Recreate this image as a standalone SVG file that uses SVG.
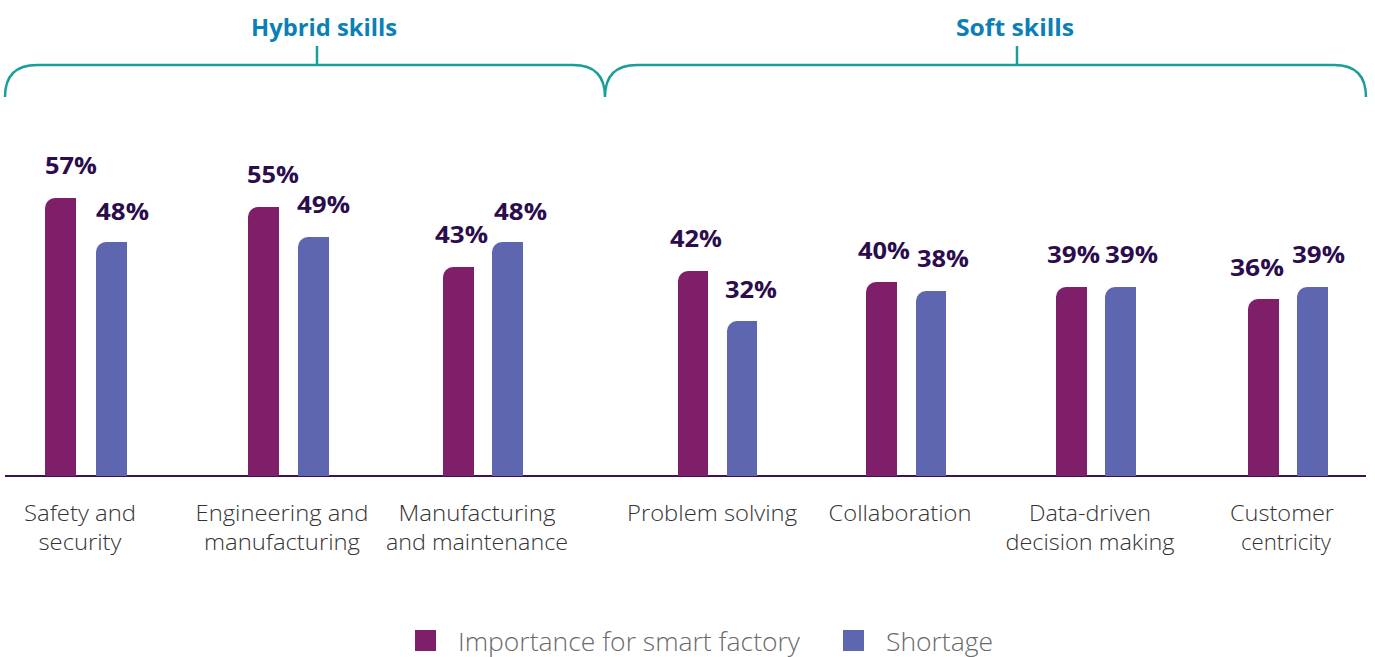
<svg xmlns="http://www.w3.org/2000/svg" width="1375" height="657" viewBox="0 0 1375 657">
<style>
.imp{fill:#7f1f69}
.sho{fill:#5e66b0}
.pct{font-family:"Open Sans","Liberation Sans",sans-serif;font-weight:700;font-size:24px;fill:#2b0d4d}
.cat{font-family:"Open Sans","Liberation Sans",sans-serif;font-weight:300;font-size:22.5px;fill:#333333;text-anchor:middle}
.grp{font-family:"Open Sans","Liberation Sans",sans-serif;font-weight:700;font-size:24px;fill:#0a7fb8;text-anchor:middle}
.brk{fill:none;stroke:#1a9e9a;stroke-width:2.5}
.leg{font-family:"Open Sans","Liberation Sans",sans-serif;font-weight:300;font-size:26px;fill:#6a6a6a}
</style>
<rect width="1375" height="657" fill="#ffffff"/>
<g id="brackets">
<path class="brk" d="M5,97 Q5,65 37,65 H573 Q605,65 605,97 Q605,65 637,65 H1334 Q1366,65 1366,97"/>
<path class="brk" d="M317,46 V65 M1017,46 V65"/>
<text class="grp" x="324" y="36" textLength="146" lengthAdjust="spacingAndGlyphs">Hybrid skills</text>
<text class="grp" x="1015" y="36" textLength="118" lengthAdjust="spacingAndGlyphs">Soft skills</text>
</g>
<g id="axis">
<line x1="5" y1="476" x2="1366" y2="476" stroke="#3a1258" stroke-width="2"/>
</g>
<g id="safety">
<path class="imp" d="M45,476 V208 A10,10 0 0 1 55,198 H76 V476 Z"/>
<path class="sho" d="M96,476 V252 A10,10 0 0 1 106,242 H127 V476 Z"/>
<text class="pct" x="45" y="174" textLength="52" lengthAdjust="spacingAndGlyphs">57%</text>
<text class="pct" x="96" y="220" textLength="53" lengthAdjust="spacingAndGlyphs">48%</text>
<text class="cat" x="80" y="521" textLength="112" lengthAdjust="spacingAndGlyphs">Safety and</text>
<text class="cat" x="80" y="550" textLength="83" lengthAdjust="spacingAndGlyphs">security</text>
</g>
<g id="engineering">
<path class="imp" d="M248,476 V217 A10,10 0 0 1 258,207 H279 V476 Z"/>
<path class="sho" d="M298,476 V247 A10,10 0 0 1 308,237 H329 V476 Z"/>
<text class="pct" x="247" y="183" textLength="52" lengthAdjust="spacingAndGlyphs">55%</text>
<text class="pct" x="297" y="213" textLength="53" lengthAdjust="spacingAndGlyphs">49%</text>
<text class="cat" x="282" y="521" textLength="173" lengthAdjust="spacingAndGlyphs">Engineering and</text>
<text class="cat" x="282" y="550" textLength="156" lengthAdjust="spacingAndGlyphs">manufacturing</text>
</g>
<g id="manufacturing">
<path class="imp" d="M443,476 V277 A10,10 0 0 1 453,267 H474 V476 Z"/>
<path class="sho" d="M492,476 V252 A10,10 0 0 1 502,242 H523 V476 Z"/>
<text class="pct" x="435" y="243" textLength="53" lengthAdjust="spacingAndGlyphs">43%</text>
<text class="pct" x="494" y="220" textLength="53" lengthAdjust="spacingAndGlyphs">48%</text>
<text class="cat" x="477" y="521" textLength="157" lengthAdjust="spacingAndGlyphs">Manufacturing</text>
<text class="cat" x="477" y="550" textLength="182" lengthAdjust="spacingAndGlyphs">and maintenance</text>
</g>
<g id="problem">
<path class="imp" d="M678,476 V281 A10,10 0 0 1 688,271 H708 V476 Z"/>
<path class="sho" d="M727,476 V331 A10,10 0 0 1 737,321 H757 V476 Z"/>
<text class="pct" x="670" y="247" textLength="52" lengthAdjust="spacingAndGlyphs">42%</text>
<text class="pct" x="725" y="298" textLength="52" lengthAdjust="spacingAndGlyphs">32%</text>
<text class="cat" x="712" y="521" textLength="170" lengthAdjust="spacingAndGlyphs">Problem solving</text>
</g>
<g id="collaboration">
<path class="imp" d="M866,476 V292 A10,10 0 0 1 876,282 H897 V476 Z"/>
<path class="sho" d="M916,476 V301 A10,10 0 0 1 926,291 H946 V476 Z"/>
<text class="pct" x="858" y="259" textLength="52" lengthAdjust="spacingAndGlyphs">40%</text>
<text class="pct" x="917" y="267" textLength="52" lengthAdjust="spacingAndGlyphs">38%</text>
<text class="cat" x="900" y="521" textLength="143" lengthAdjust="spacingAndGlyphs">Collaboration</text>
</g>
<g id="datadriven">
<path class="imp" d="M1056,476 V297 A10,10 0 0 1 1066,287 H1087 V476 Z"/>
<path class="sho" d="M1105,476 V297 A10,10 0 0 1 1115,287 H1136 V476 Z"/>
<text class="pct" x="1047" y="263" textLength="53" lengthAdjust="spacingAndGlyphs">39%</text>
<text class="pct" x="1105" y="263" textLength="53" lengthAdjust="spacingAndGlyphs">39%</text>
<text class="cat" x="1090" y="521" textLength="122" lengthAdjust="spacingAndGlyphs">Data-driven</text>
<text class="cat" x="1090" y="550" textLength="169" lengthAdjust="spacingAndGlyphs">decision making</text>
</g>
<g id="customer">
<path class="imp" d="M1248,476 V309 A10,10 0 0 1 1258,299 H1279 V476 Z"/>
<path class="sho" d="M1297,476 V297 A10,10 0 0 1 1307,287 H1328 V476 Z"/>
<text class="pct" x="1230" y="276" textLength="54" lengthAdjust="spacingAndGlyphs">36%</text>
<text class="pct" x="1292" y="263" textLength="53" lengthAdjust="spacingAndGlyphs">39%</text>
<text class="cat" x="1282" y="521" textLength="104" lengthAdjust="spacingAndGlyphs">Customer</text>
<text class="cat" x="1286" y="550" textLength="90" lengthAdjust="spacingAndGlyphs">centricity</text>
</g>
<g id="legend">
<rect class="imp" x="415" y="630" width="21" height="21"/>
<text class="leg" x="458" y="651" textLength="342" lengthAdjust="spacingAndGlyphs">Importance for smart factory</text>
<rect class="sho" x="843" y="630" width="21" height="21"/>
<text class="leg" x="886" y="651" textLength="107" lengthAdjust="spacingAndGlyphs">Shortage</text>
</g>
</svg>
